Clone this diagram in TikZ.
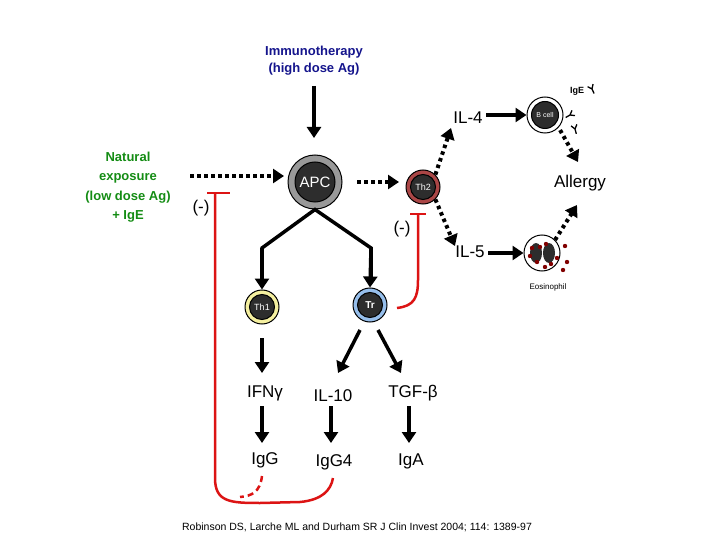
\documentclass[tikz,border=0pt]{standalone}
\usepackage{fontspec}
\setmainfont{Liberation Sans}
\usetikzlibrary{arrows.meta}
\definecolor{ablue}{RGB}{20,20,140}
\definecolor{agreen}{RGB}{20,140,20}
\definecolor{ared}{RGB}{220,20,20}
\definecolor{th2c}{RGB}{170,70,70}
\definecolor{th1c}{RGB}{245,240,160}
\definecolor{trc}{RGB}{150,190,235}
\definecolor{dark}{RGB}{45,45,45}
\begin{document}
\begin{tikzpicture}[x=1pt,y=-1pt,
  lbl/.style={font=\fontsize{17}{19}\selectfont},
  arr/.style={line width=3.5pt,-{Triangle[length=11pt,width=14pt]}},
  dot/.style={line width=4pt,dash pattern=on 3.5pt off 3.5pt,-{Triangle[length=11pt,width=14pt]}},
  inh/.style={ared,line width=2.5pt},
  cell/.style={circle,draw=black,line width=1pt,fill=dark,text=white,inner sep=0pt}]
\useasboundingbox (0,0) rectangle (720,540);
\node[font=\bfseries\fontsize{13}{17}\selectfont,text=ablue,align=center] (imm) at (314,61) {Immunotherapy\\(high dose Ag)};
\node[font=\bfseries\fontsize{13}{19.5}\selectfont,text=agreen,align=center] (nat) at (128,187) {Natural\\exposure\\(low dose Ag)\\+ IgE};
% APC
\node[circle,draw=black,line width=1pt,fill=gray!80,minimum size=54pt] (apc) at (315,182) {};
\node[cell,minimum size=40pt,font=\fontsize{15}{17}\selectfont] at (apc) {APC};
% Th2
\node[circle,draw=black,line width=1pt,fill=th2c,minimum size=34pt] (th2) at (423,187) {};
\node[cell,minimum size=25pt,font=\fontsize{9}{10}\selectfont] at (th2) {Th2};
% Th1
\node[circle,draw=black,line width=1pt,fill=th1c,minimum size=34pt] (th1) at (262,307) {};
\node[cell,minimum size=25pt,font=\fontsize{9}{10}\selectfont] at (th1) {Th1};
% Tr
\node[circle,draw=black,line width=1pt,fill=trc,minimum size=34pt] (tr) at (370,305) {};
\node[cell,minimum size=25pt,font=\bfseries\fontsize{10}{11}\selectfont] at (tr) {Tr};
% B cell
\node[circle,draw=black,line width=1pt,fill=white,minimum size=36pt] (bc) at (545,115) {};
\node[cell,minimum size=27pt,font=\fontsize{7}{8}\selectfont] at (bc) {B cell};
% Eosinophil
\node[circle,draw=black,line width=1pt,fill=white,minimum size=36pt] (eo) at (542,253) {};
\fill[dark] (536,253) ellipse (6 and 10);
\fill[dark] (549,253) ellipse (6 and 10);
\foreach \p in {(530,256),(537,262),(546,244),(551,264),(540,247),(557,258),(565,246),(567,262),(563,270),(545,267),(532,248)}
  \fill[red!50!black] \p circle (2.2);
\node[font=\fontsize{8}{9}\selectfont] (eol) at (548,287) {Eosinophil};
% labels
\node[lbl] (il4) at (468,118) {IL-4};
\node[lbl] (il5) at (470,252) {IL-5};
\node[font=\fontsize{17}{19}\selectfont] (all) at (580,183) {Allergy};
\node[font=\bfseries\fontsize{9}{10}\selectfont] (ige) at (577,91) {IgE};
\foreach \x/\y/\a in {592/89/25,570/115/-60,575/129/15}
  \draw[line width=1.3pt,rotate around={\a:(\x,\y)}] (\x,\y+5) -- (\x,\y) -- (\x-3,\y-4) (\x,\y) -- (\x+3,\y-4);
\node[lbl] (ifn) at (265,393) {IFNγ};
\node[lbl] (il10) at (333,396) {IL-10};
\node[lbl] (tgf) at (413,393) {TGF-β};
\node[lbl] (igg) at (265,460) {IgG};
\node[lbl] (igg4) at (334,462) {IgG4};
\node[lbl] (iga) at (411,461) {IgA};
\node[lbl] (m1) at (201,208) {(-)};
\node[lbl] (m2) at (402,229) {(-)};
\node[font=\fontsize{10.5}{12}\selectfont] (cite) at (357,527) {Robinson DS, Larche ML and Durham SR  J Clin Invest 2004; 114: 1389-97};
% arrows
\coordinate (i1) at (314,86);
\draw[arr] (i1) -- (314,138);
\coordinate (n1) at (190,176);
\draw[dot] (n1) -- (284,176);
\coordinate (a1) at (357,182);
\draw[dot] (a1) -- (399,182);
\draw[dot] (th2.north east) -- (451,128);
\draw[dot] (th2.south east) -- (455,246);
\draw[arr] (il4.east|-bc) -- (bc.west);
\draw[arr] (il5.east|-eo) -- (eo.west);
\draw[dot] (bc.south east) ++(2,2) -- (578,162);
\draw[dot] (eo.north east) -- (577,205);
\draw[line width=3.5pt] (262,278) -- (262,248) -- (apc.south) -- (371,248) -- (371,278);
\draw[arr] (262,248) -- (th1.north);
\draw[arr] (371,248) -- (tr.north);
\draw[arr] (262,338) -- (262,373);
\draw[arr] (360,330) -- (338,373);
\draw[arr] (378,330) -- (401,373);
\draw[arr] (262,406) -- (262,443);
\draw[arr] (331,406) -- (331,443);
\draw[arr] (409,406) -- (409,443);
% inhibition
\draw[inh] (215,193) -- (215,478) .. controls (215,502) and (230,503) .. (260,503) -- (300,502) .. controls (322,500) and (331,490) .. (333,478);
\draw[inh] (207,193) -- (230,193);
\draw[inh,dash pattern=on 6pt off 4pt] (262,476) .. controls (260,492) and (252,496) .. (240,497);
\draw[inh] (397,308) .. controls (414,306) and (418,298) .. (418,280) -- (418,214);
\draw[inh] (410,214) -- (426,214);
\end{tikzpicture}
\end{document}
